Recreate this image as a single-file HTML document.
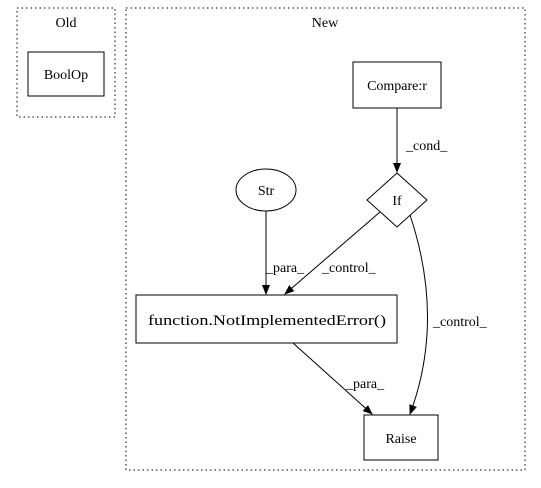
<!DOCTYPE html>
<html><head><meta charset="utf-8"><style>body{margin:0;background:#fff}svg{display:block}</style></head><body>
<svg width="541" height="488" viewBox="0 0 541 488" xmlns="http://www.w3.org/2000/svg" font-family="Liberation Serif, serif" font-size="14">
<defs><marker id="a" markerWidth="10" markerHeight="8" refX="9" refY="4" orient="auto" markerUnits="userSpaceOnUse"><path d="M0,0 L10,4 L0,8 z" fill="#000"/></marker></defs>
<rect x="17" y="8" width="98" height="109" fill="none" stroke="#000" stroke-dasharray="1.5,3"/>
<text x="66" y="27" text-anchor="middle">Old</text>
<rect x="28" y="52" width="76" height="44" fill="none" stroke="#000"/>
<text x="66" y="79" text-anchor="middle">BoolOp</text>
<rect x="126" y="8" width="399" height="462" fill="none" stroke="#000" stroke-dasharray="1.5,3"/>
<text x="325" y="27" text-anchor="middle">New</text>
<rect x="353" y="62" width="88" height="46" fill="none" stroke="#000"/>
<text x="397" y="90" text-anchor="middle">Compare:r</text>
<polygon points="397,173 427,200 397,227 367,200" fill="none" stroke="#000"/>
<text x="397" y="205" text-anchor="middle">If</text>
<ellipse cx="266" cy="190" rx="30" ry="21" fill="none" stroke="#000"/>
<text x="266" y="195" text-anchor="middle">Str</text>
<rect x="136" y="295" width="261" height="48" fill="none" stroke="#000"/>
<text x="148" y="325" textLength="238" lengthAdjust="spacingAndGlyphs" font-size="15">function.NotImplementedError()</text>
<rect x="364" y="415" width="74" height="45" fill="none" stroke="#000"/>
<text x="401" y="443" text-anchor="middle">Raise</text>
<g fill="none" stroke="#000" marker-end="url(#a)">
<line x1="397" y1="108" x2="397" y2="172"/>
<line x1="266" y1="211" x2="266" y2="294"/>
<line x1="380" y1="212" x2="285" y2="294"/>
<path d="M410,215 Q445,320 410,414"/>
<line x1="293" y1="343" x2="372" y2="414"/>
</g>
<text x="406" y="150">_cond_</text>
<text x="266" y="272">_para_</text>
<text x="322" y="272">_control_</text>
<text x="433" y="326">_control_</text>
<text x="346" y="388">_para_</text>
</svg>
</body></html>
